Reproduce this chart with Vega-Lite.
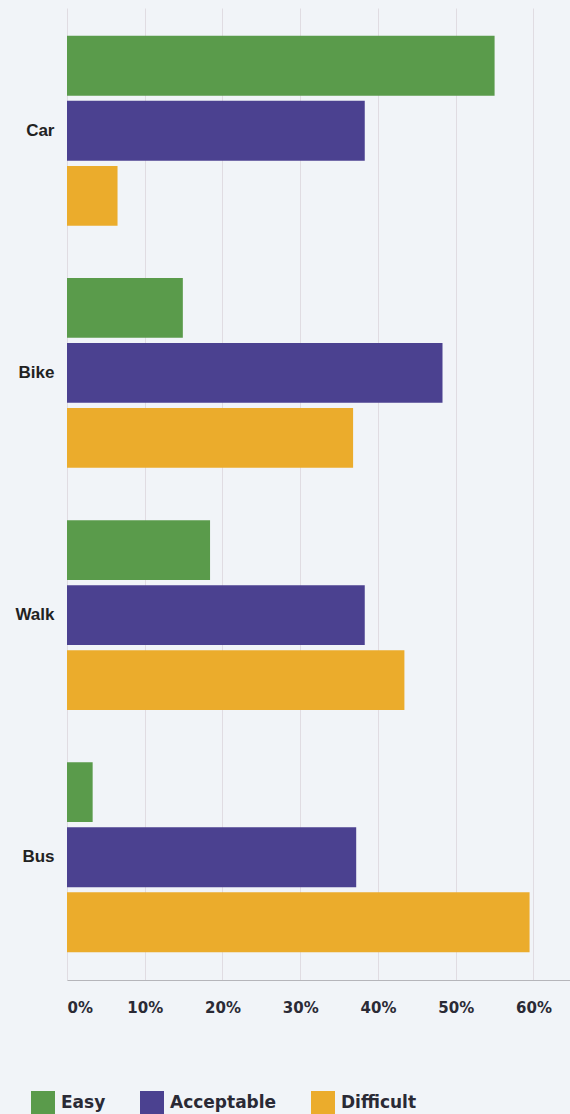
{
  "$schema": "https://vega.github.io/schema/vega-lite/v6.json",
  "autosize": {"type": "none"},
  "padding": {"left": 67, "top": 8, "right": 0, "bottom": 134},
  "width": 503,
  "height": 972,
  "background": "#f1f4f8",
  "config": {"view": {"stroke": null}},
  "data": {"values": [
    {"mode": "Car", "rating": "Easy", "value": 0.55},
    {"mode": "Car", "rating": "Acceptable", "value": 0.383},
    {"mode": "Car", "rating": "Difficult", "value": 0.065},
    {"mode": "Bike", "rating": "Easy", "value": 0.149},
    {"mode": "Bike", "rating": "Acceptable", "value": 0.483},
    {"mode": "Bike", "rating": "Difficult", "value": 0.368},
    {"mode": "Walk", "rating": "Easy", "value": 0.184},
    {"mode": "Walk", "rating": "Acceptable", "value": 0.383},
    {"mode": "Walk", "rating": "Difficult", "value": 0.434},
    {"mode": "Bus", "rating": "Easy", "value": 0.033},
    {"mode": "Bus", "rating": "Acceptable", "value": 0.372},
    {"mode": "Bus", "rating": "Difficult", "value": 0.595}
  ]},
  "mark": {"type": "bar"},
  "encoding": {
    "y": {
      "field": "mode", "type": "nominal",
      "sort": ["Car", "Bike", "Walk", "Bus"],
      "scale": {"paddingInner": 0.216, "paddingOuter": 0.115},
      "axis": {
        "title": null, "domain": false, "ticks": false, "grid": false,
        "labelFont": "Liberation Sans", "labelFontWeight": "bold",
        "labelFontSize": 17, "labelColor": "#222222", "labelPadding": 13
      }
    },
    "yOffset": {
      "field": "rating", "type": "nominal",
      "sort": ["Easy", "Acceptable", "Difficult"],
      "scale": {"paddingInner": 0.08, "paddingOuter": 0}
    },
    "x": {
      "field": "value", "type": "quantitative",
      "scale": {"domain": [0, 0.647], "nice": false, "zero": true},
      "axis": {
        "title": null, "format": ".0%",
        "values": [0, 0.1, 0.2, 0.3, 0.4, 0.5, 0.6],
        "ticks": false, "domain": true, "domainColor": "#b5b5ba", "domainWidth": 1.2,
        "grid": true, "gridColor": "#e0dce2", "gridWidth": 1,
        "labelFlush": true,
        "labelFont": "DejaVu Sans", "labelFontWeight": "bold",
        "labelFontSize": 15, "labelColor": "#2a2a35", "labelPadding": 20
      }
    },
    "color": {
      "field": "rating", "type": "nominal",
      "sort": ["Easy", "Acceptable", "Difficult"],
      "scale": {"domain": ["Easy", "Acceptable", "Difficult"], "range": ["#5a9b4b", "#4b4190", "#ebac2c"]},
      "legend": {
        "title": null, "orient": "none", "direction": "horizontal",
        "legendX": -36, "legendY": 1083,
        "symbolType": "square", "symbolSize": 576, "symbolStrokeWidth": 0,
        "labelFont": "DejaVu Sans", "labelFontWeight": "bold", "labelFontSize": 17,
        "labelColor": "#2a2a35", "labelOffset": 6, "columnPadding": 34
      }
    }
  }
}
